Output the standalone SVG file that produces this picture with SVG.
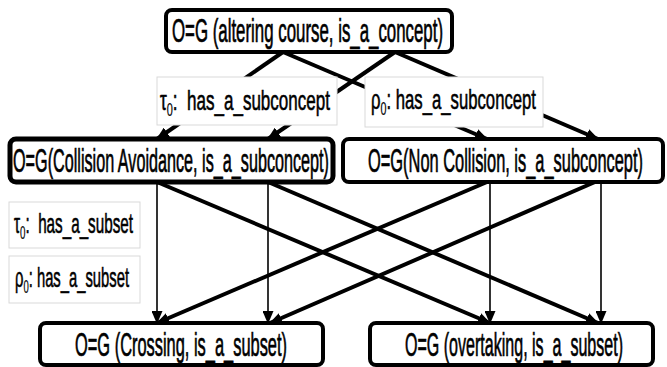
<svg xmlns="http://www.w3.org/2000/svg" width="667" height="367" viewBox="0 0 667 367">
<style>
.box{fill:#fff;stroke:#000;stroke-width:4}
.lbl{fill:#fff;stroke:#d9d9d9;stroke-width:1}
.nt{font-family:"Liberation Sans Narrow","Liberation Sans",Arial,sans-serif;font-size:33px;fill:#000;stroke:#000;stroke-width:0.7}
.lt{font-family:"Liberation Sans Narrow","Liberation Sans",Arial,sans-serif;font-size:28px;fill:#000;stroke:#000;stroke-width:0.6;white-space:pre}
.sub{font-size:18px;stroke-width:0.2}
.thick{stroke:#000;stroke-width:4;fill:none;marker-end:url(#ah)}
.thin{stroke:#000;stroke-width:1.6;fill:none;marker-end:url(#ah)}
</style>
<defs>
<marker id="ah" markerUnits="userSpaceOnUse" markerWidth="13" markerHeight="11" refX="12" refY="5.5" orient="auto">
<path d="M0,0 L13,5.5 L0,11 z" fill="#000"/>
</marker>
</defs>
<rect width="667" height="367" fill="#fff"/>
<g id="connectors">
<line class="thick" x1="283" y1="52" x2="157" y2="139"/>
<line class="thick" x1="283" y1="52" x2="487" y2="139"/>
<line class="thick" x1="395" y1="52" x2="268" y2="139"/>
<line class="thick" x1="395" y1="52" x2="598" y2="139"/>
<line class="thin" x1="157" y1="182" x2="157" y2="323"/>
<line class="thin" x1="268" y1="182" x2="268" y2="323"/>
<line class="thin" x1="490" y1="182" x2="490" y2="323"/>
<line class="thin" x1="601" y1="182" x2="601" y2="323"/>
<line class="thick" x1="157" y1="182" x2="490" y2="323"/>
<line class="thick" x1="268" y1="182" x2="598" y2="323"/>
<line class="thick" x1="487" y1="182" x2="157" y2="323"/>
<line class="thick" x1="595" y1="182" x2="270" y2="323"/>
</g>
<g id="labels">
<g id="label-tau-subconcept">
<rect class="lbl" x="157" y="77" width="180" height="48"/>
<text class="lt" x="160" y="110" textLength="170" lengthAdjust="spacingAndGlyphs">τ<tspan class="sub" dy="6">0</tspan><tspan dy="-6">:  has_a_subconcept</tspan></text>
</g>
<g id="label-rho-subconcept">
<rect class="lbl" x="365" y="77" width="178" height="50"/>
<text class="lt" x="371" y="109" textLength="165" lengthAdjust="spacingAndGlyphs">ρ<tspan class="sub" dy="6">0</tspan><tspan dy="-6">: has_a_subconcept</tspan></text>
</g>
<g id="label-tau-subset">
<rect class="lbl" x="9" y="202" width="131" height="46"/>
<text class="lt" x="14" y="233" textLength="119" lengthAdjust="spacingAndGlyphs">τ<tspan class="sub" dy="6">0</tspan><tspan dy="-6">:  has_a_subset</tspan></text>
</g>
<g id="label-rho-subset">
<rect class="lbl" x="9" y="256" width="131" height="47"/>
<text class="lt" x="15" y="287" textLength="114" lengthAdjust="spacingAndGlyphs">ρ<tspan class="sub" dy="6">0</tspan><tspan dy="-6">: has_a_subset</tspan></text>
</g>
</g>
<g id="node-altering-course">
<rect class="box" x="166" y="10" width="286" height="42" rx="6"/>
<text class="nt" x="172" y="42" textLength="271" lengthAdjust="spacingAndGlyphs">O=G (altering course, is_a_concept)</text>
</g>
<g id="node-collision-avoidance">
<rect class="box" x="10" y="139" width="323" height="43" rx="6" style="stroke-width:5"/>
<text class="nt" x="13" y="172" textLength="316" lengthAdjust="spacingAndGlyphs">O=G(Collision Avoidance, is_a_subconcept)</text>
</g>
<g id="node-non-collision">
<rect class="box" x="343" y="139" width="320" height="43" rx="6"/>
<text class="nt" x="368" y="172" textLength="275" lengthAdjust="spacingAndGlyphs">O=G(Non Collision, is_a_subconcept)</text>
</g>
<g id="node-crossing">
<rect class="box" x="40" y="323" width="283" height="42" rx="6"/>
<text class="nt" x="75" y="356" textLength="212" lengthAdjust="spacingAndGlyphs">O=G (Crossing, is_a_subset)</text>
</g>
<g id="node-overtaking">
<rect class="box" x="370" y="323" width="283" height="42" rx="6"/>
<text class="nt" x="405" y="356" textLength="218" lengthAdjust="spacingAndGlyphs">O=G (overtaking, is_a_subset)</text>
</g>
</svg>
